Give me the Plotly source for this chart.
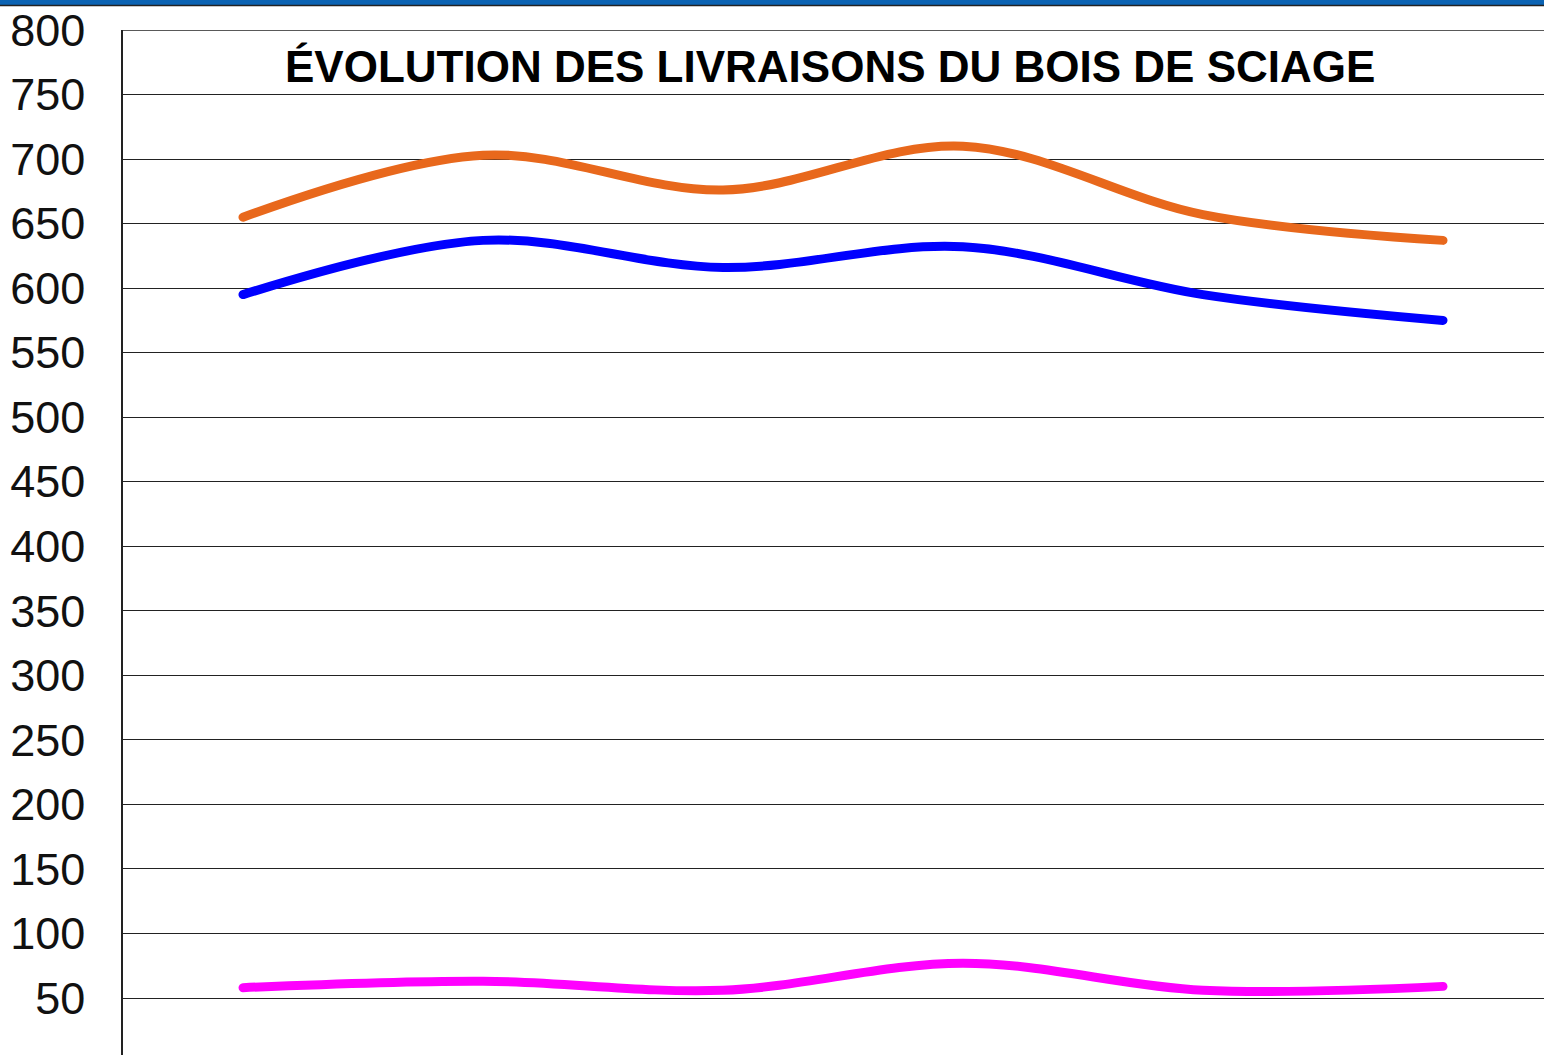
import plotly.graph_objects as go

categories = ["P1", "P2", "P3", "P4", "P5", "P6"]
orange_vals = [655, 703, 676, 710, 657, 637]
blue_vals = [595, 637, 616, 632, 595, 575]
magenta_vals = [58, 63, 56, 77, 56, 59]
y_ticks = list(range(0, 801, 50))

W, H = 1544, 1055
ML, MT = 123, 30
plot_h = H - MT

fig = go.Figure()
for vals, col in [(orange_vals, "#E8681C"), (blue_vals, "#0000FF"), (magenta_vals, "#FF00FF")]:
    fig.add_trace(go.Scatter(
        x=list(range(len(categories))), y=vals, mode="lines",
        line=dict(color=col, width=9, shape="spline", smoothing=1.0),
        text=categories, showlegend=False, hoverinfo="y+text"))

px_per_unit = 968 / 750
y_min = 800 - plot_h / px_per_unit
x_max = -0.5 + (W - ML) / 240

fig.update_layout(
    width=W, height=H,
    margin=dict(l=ML, r=0, t=MT, b=0, pad=0),
    paper_bgcolor="white", plot_bgcolor="white",
    font=dict(family="Liberation Sans, Arial, sans-serif", color="#111"),
    xaxis=dict(range=[-0.5, x_max], showgrid=False, zeroline=False,
               showticklabels=False, ticks="", showline=False),
    yaxis=dict(range=[y_min, 800], tickvals=y_ticks,
               ticktext=[str(v) for v in y_ticks],
               showgrid=True, gridcolor="#222", gridwidth=1.3,
               zeroline=False, showline=True, linecolor="#222", linewidth=1.5,
               ticks="", tickfont=dict(size=45, color="#111"),
               ticklabelstandoff=27),
    annotations=[
        dict(text="<b>ÉVOLUTION DES LIVRAISONS DU BOIS DE SCIAGE</b>",
             xref="paper", yref="y", x=(830 - ML) / (W - ML), y=772,
             xanchor="center", yanchor="middle", showarrow=False,
             font=dict(size=44, color="#000")),
        dict(text="0", xref="paper", yref="y", x=-38 / (W - ML), y=0,
             xanchor="right", yanchor="middle", showarrow=False,
             font=dict(size=45, color="#111")),
    ],
    shapes=[
        dict(type="rect", xref="paper", yref="paper", x0=-ML / (W - ML), x1=1,
             y0=1 + (MT - 5) / plot_h, y1=1 + MT / plot_h + 0.01,
             fillcolor="#0B63B3", line=dict(width=0), layer="above"),
        dict(type="line", xref="paper", yref="paper", x0=-ML / (W - ML), x1=1,
             y0=1 + (MT - 5.5) / plot_h, y1=1 + (MT - 5.5) / plot_h,
             line=dict(color="#222", width=1.5)),
        dict(type="line", xref="paper", yref="y", x0=0, x1=1, y0=800, y1=800,
             line=dict(color="#222", width=1.5)),
    ],
)

post = """
document.body.style.margin='0';
document.body.style.overflow='hidden';
var st=document.createElement('style');
st.textContent='.scatterlayer .js-line{stroke-linecap:round;stroke-linejoin:round;}';
document.head.appendChild(st);
"""
fig.write_html("out.html", post_script=post, config={"displayModeBar": False})
